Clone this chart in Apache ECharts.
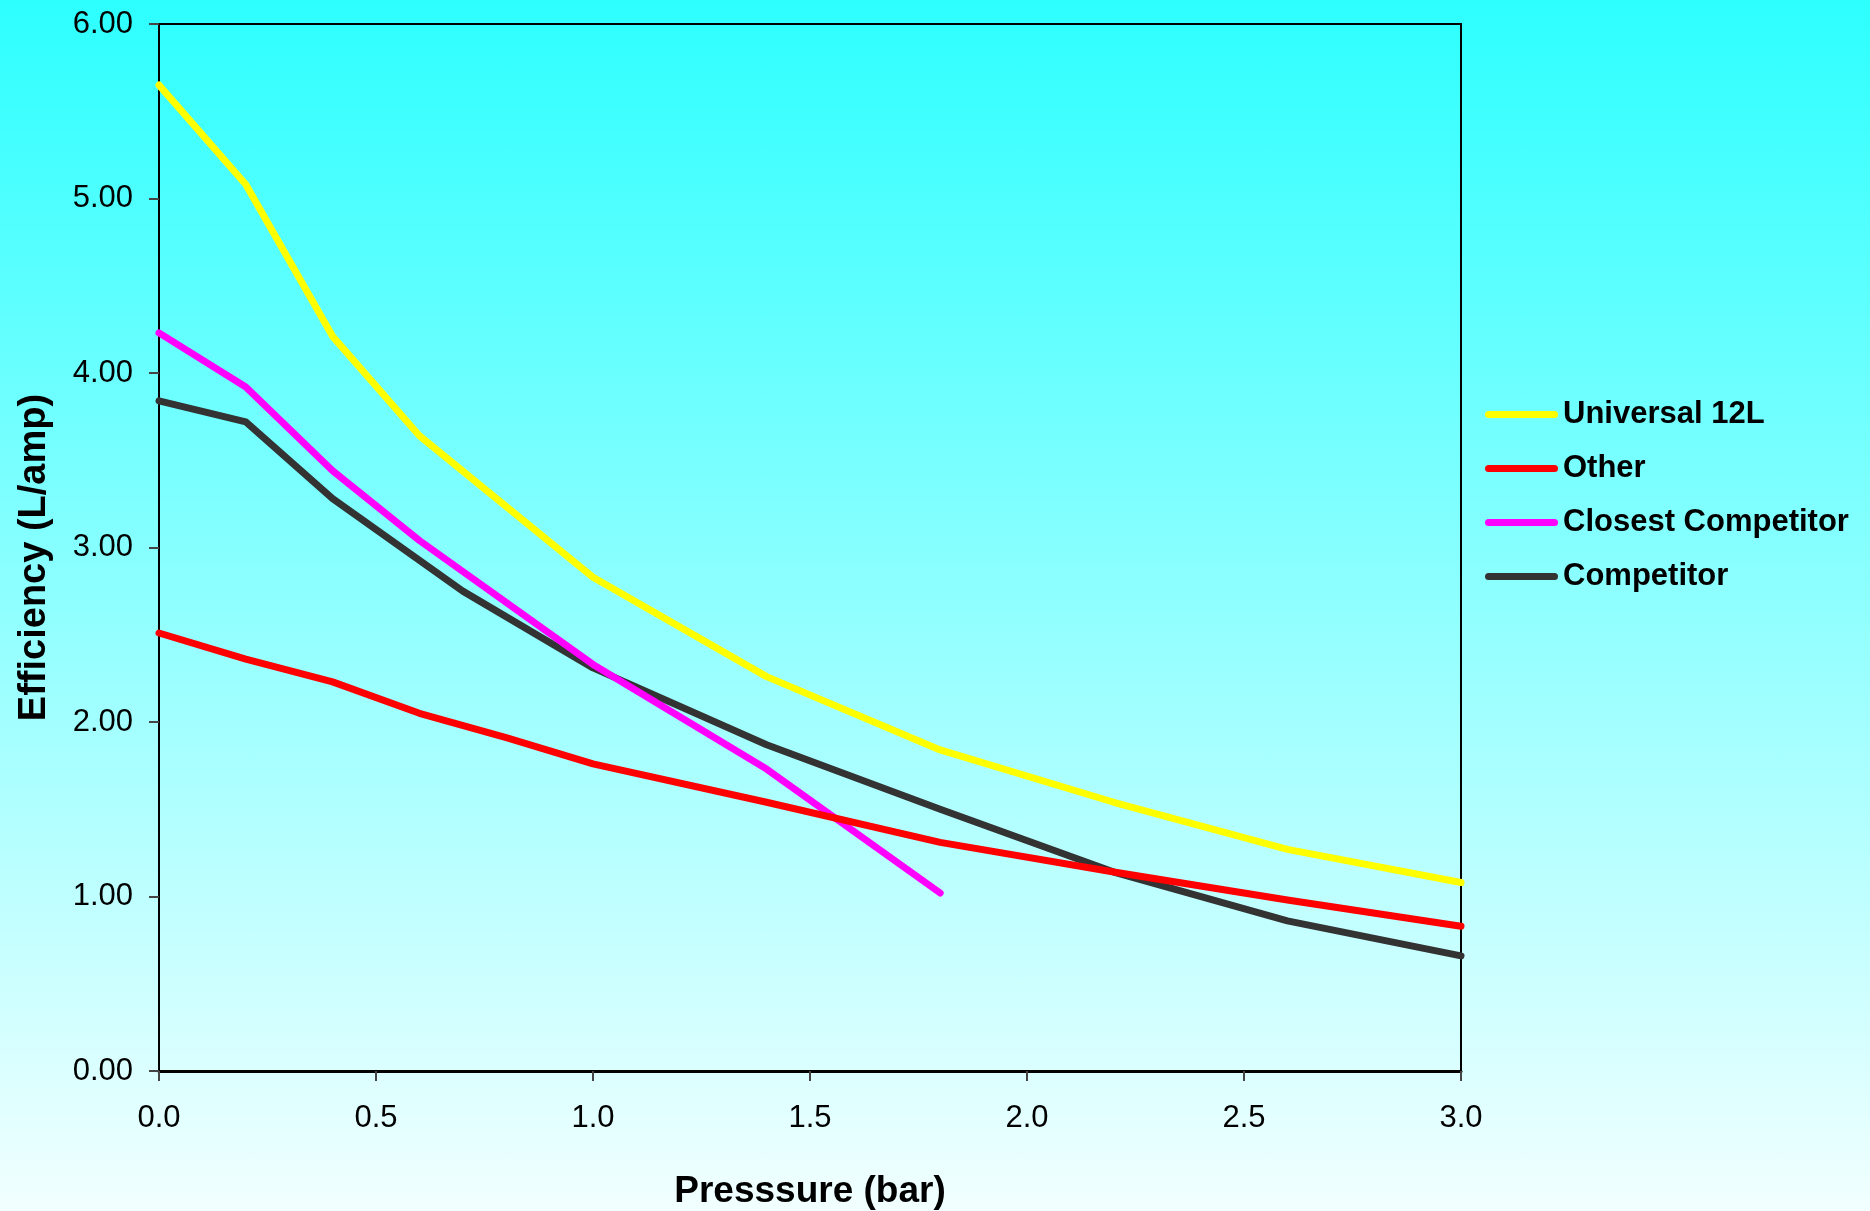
<!DOCTYPE html>
<html>
<head>
<meta charset="utf-8">
<script src="https://cdn.jsdelivr.net/npm/echarts@6/dist/echarts.min.js"></script>
<style>
html,body{margin:0;padding:0;}
#chart{width:1870px;height:1211px;background:linear-gradient(to bottom,#2DFFFF 0%,#F2FFFF 100%);}
</style>
</head>
<body>
<div id="chart"></div>
<script>
// Data
const universalX = [0, 0.2, 0.4, 0.6, 1.0, 1.4, 1.8, 2.2, 2.6, 3.0];
const universalY = [5.65, 5.08, 4.21, 3.64, 2.83, 2.26, 1.84, 1.54, 1.27, 1.08];
const otherX = [0, 0.2, 0.4, 0.6, 0.8, 1.0, 1.4, 1.8, 2.2, 2.6, 3.0];
const otherY = [2.51, 2.36, 2.23, 2.05, 1.91, 1.76, 1.54, 1.31, 1.14, 0.98, 0.83];
const closestX = [0, 0.2, 0.4, 0.6, 1.0, 1.4, 1.8];
const closestY = [4.23, 3.92, 3.44, 3.04, 2.33, 1.73, 1.02];
const competitorX = [0, 0.2, 0.4, 0.7, 1.0, 1.4, 1.8, 2.2, 2.6, 3.0];
const competitorY = [3.84, 3.72, 3.28, 2.75, 2.31, 1.87, 1.50, 1.14, 0.86, 0.66];
const seriesNames = ['Universal 12L', 'Other', 'Closest Competitor', 'Competitor'];
const seriesColors = ['#FFFF00', '#FF0000', '#FF00FF', '#333333'];
const xTitle = 'Presssure (bar)';
const yTitle = 'Efficiency (L/amp)';

function pairs(xs, ys) { return xs.map((x, i) => [x, ys[i]]); }
const allData = [
  pairs(universalX, universalY),
  pairs(otherX, otherY),
  pairs(closestX, closestY),
  pairs(competitorX, competitorY)
];

const FONT = '"Liberation Sans", Arial, sans-serif';
const LEGEND_ICON = 'path://M3.5,0 L69.5,0 A3.5,3.5 0 0 1 69.5,7 L3.5,7 A3.5,3.5 0 0 1 3.5,0 Z';
const chart = echarts.init(document.getElementById('chart'), null, {renderer: 'canvas'});
chart.setOption({
  backgroundColor: 'transparent',
  animation: false,
  grid: {
    left: 159, top: 24, right: 409, bottom: 140,
    show: true, borderColor: '#000', borderWidth: 2, backgroundColor: 'transparent',
    containLabel: false,
    outerBoundsMode: 'none'
  },
  legend: {
    orient: 'vertical',
    left: 1480, top: 394,
    itemWidth: 73, itemHeight: 7, itemGap: 23,
    icon: LEGEND_ICON,
    data: seriesNames,
    textStyle: {fontFamily: FONT, fontWeight: 'bold', fontSize: 31, color: '#000'}
  },
  xAxis: {
    type: 'value', min: 0, max: 3, interval: 0.5,
    name: xTitle, nameLocation: 'middle', nameGap: 102, nameMoveOverlap: false,
    nameTextStyle: {fontFamily: FONT, fontWeight: 'bold', fontSize: 37, color: '#000'},
    axisLine: {show: true, onZero: false, lineStyle: {color: '#000', width: 3}},
    axisTick: {show: true, length: 10, lineStyle: {color: '#444', width: 2}},
    axisLabel: {margin: 32, fontFamily: FONT, fontSize: 31, color: '#000',
      formatter: v => v.toFixed(1)},
    splitLine: {show: false}
  },
  yAxis: {
    type: 'value', min: 0, max: 6, interval: 1,
    name: yTitle, nameLocation: 'middle', nameGap: 105, nameRotate: 90, nameMoveOverlap: false,
    nameTextStyle: {fontFamily: FONT, fontWeight: 'bold', fontSize: 38, color: '#000',
      padding: [0, 20, 0, 0]},
    axisLine: {show: true, lineStyle: {color: '#000', width: 2}},
    axisTick: {show: true, length: 10, lineStyle: {color: '#444', width: 2}},
    axisLabel: {margin: 26, fontFamily: FONT, fontSize: 31, color: '#000',
      formatter: v => v.toFixed(2)},
    splitLine: {show: false}
  },
  series: seriesNames.map((name, i) => ({
    name: name,
    type: 'line',
    data: allData[i],
    symbol: 'none',
    showSymbol: false,
    color: seriesColors[i],
    lineStyle: {color: seriesColors[i], width: 7, cap: 'round', join: 'round'},
    z: 3 + (3 - i)
  }))
});
</script>
</body>
</html>
